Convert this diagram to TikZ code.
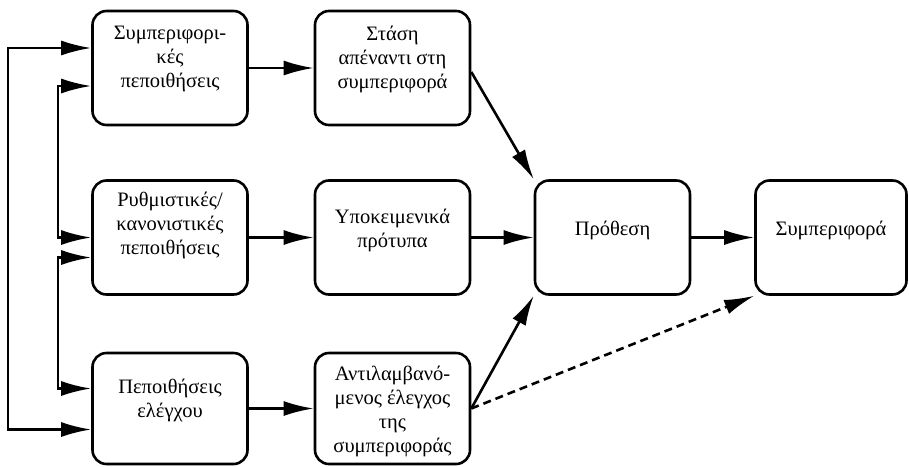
\documentclass[tikz,border=0pt]{standalone}
\usepackage{fontspec}
\setmainfont{Liberation Serif}
\usetikzlibrary{arrows.meta}
\tikzset{
  box/.style={draw, line width=2.6pt, rounded corners=14pt, minimum width=155pt, minimum height=114pt, inner sep=0pt},
  txt/.style={align=center, inner sep=0pt, font=\fontsize{20.5}{24}\selectfont},
  arr/.style={line width=2.6pt, -{Latex[length=30pt,width=15pt]}},
  darr/.style={line width=2.6pt, {Latex[length=30pt,width=15pt]}-{Latex[length=30pt,width=15pt]}},
  dsh/.style={arr, dash pattern=on 8pt off 5pt}
}
\begin{document}
\begin{tikzpicture}[x=1pt,y=-1pt]
\useasboundingbox (0,0) rectangle (909,466);
\node[box] (b1) at (170,68) {};
\node[box] (b2) at (392.5,68) {};
\node[box] (b3) at (170,237.5) {};
\node[box] (b4) at (392.5,237.5) {};
\node[box, minimum height=111pt] (b5) at (170,408.5) {};
\node[box, minimum height=111pt] (b6) at (392.5,408.5) {};
\node[box] (b7) at (612.5,237.5) {};
\node[box, minimum width=151pt] (b8) at (831,237.5) {};
\node[txt] (t1) at (170,59) {Συμπεριφορι-\\κές\\πεποιθήσεις};
\node[txt] (t2) at (392.5,59) {Στάση\\απέναντι στη\\συμπεριφορά};
\node[txt] (t3) at (170,225) {Ρυθμιστικές/\\κανονιστικές\\πεποιθήσεις};
\node[txt] (t4) at (392.5,230) {Υποκειμενικά\\πρότυπα};
\node[txt] (t5) at (170,400) {Πεποιθήσεις\\ελέγχου};
\node[txt] (t6) at (392.5,411) {Αντιλαμβανό-\\μενος έλεγχος\\της\\συμπεριφοράς};
\node[txt] (t7) at (612.5,230) {Πρόθεση};
\node[txt] (t8) at (831,230) {Συμπεριφορά};
\draw[arr] (b1) -- (b2);
\draw[arr] (b3) -- (b4);
\draw[arr] (b5) -- (b6);
\draw[arr] (b4) -- (b7);
\draw[arr] (b7) -- (b8);
\coordinate (s2) at ([yshift=-4pt]b2.east);
\draw[arr] (s2) -- (b7.north west);
\draw[arr] (b6.east) -- (b7.south west);
\draw[dsh] (b6.east) -- (b8.south west);
\coordinate (L1) at (8,0);
\coordinate (L2) at (58,0);
\coordinate (o1) at ([yshift=20pt]b1.west);
\coordinate (o5) at ([yshift=-21pt]b5.west);
\coordinate (i1) at ([yshift=-18pt]b1.west);
\coordinate (i3a) at (b3.west);
\coordinate (i3b) at ([yshift=-20pt]b3.west);
\coordinate (i5) at ([yshift=20pt]b5.west);
\draw[darr] (o1) -- (o1 -| L1) -- (o5 -| L1) -- (o5);
\draw[darr] (i1) -- (i1 -| L2) -- (i3a -| L2) -- (i3a);
\draw[darr] (i3b) -- (i3b -| L2) -- (i5 -| L2) -- (i5);
\end{tikzpicture}
\end{document}
